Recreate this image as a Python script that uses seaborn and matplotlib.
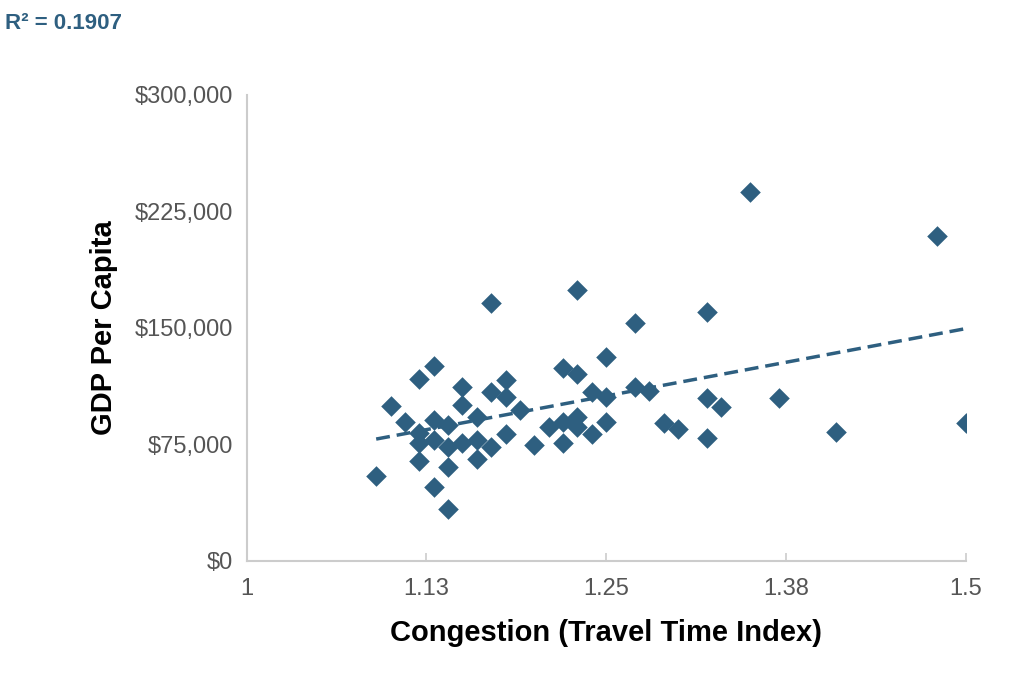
import matplotlib
matplotlib.use("Agg")
import matplotlib.pyplot as plt
import seaborn as sns
import pandas as pd
from matplotlib.ticker import FuncFormatter

plt.rcParams["font.family"] = "Liberation Sans"

congestion = [1.09, 1.10, 1.11, 1.12, 1.12, 1.12, 1.12, 1.13, 1.13, 1.13, 1.13,
              1.14, 1.14, 1.14, 1.14, 1.15, 1.15, 1.15, 1.16, 1.16, 1.16,
              1.17, 1.17, 1.17, 1.18, 1.18, 1.18, 1.19, 1.20, 1.21,
              1.22, 1.22, 1.22, 1.23, 1.23, 1.23, 1.23, 1.24, 1.24,
              1.25, 1.25, 1.25, 1.27, 1.27, 1.28, 1.29, 1.30,
              1.32, 1.32, 1.32, 1.33, 1.35, 1.37, 1.41, 1.48, 1.50]
gdp = [54700, 99800, 89500, 117200, 82400, 76000, 64400, 125500, 90800, 77900, 47600,
       87600, 73400, 60500, 33500, 112000, 100400, 76000, 92700, 77900, 65700,
       166000, 108800, 73400, 116500, 105600, 81800, 97200, 74700, 86300,
       124300, 89500, 76000, 174500, 120400, 92700, 86300, 108800, 81800,
       131300, 105600, 89500, 153200, 112000, 109400, 88800, 85000,
       160300, 104900, 79200, 99100, 237600, 104900, 83000, 209200, 88800]
x_ticks = [1, 1.125, 1.25, 1.375, 1.5]
x_labels = ["1", "1.13", "1.25", "1.38", "1.5"]
y_ticks = [0, 75000, 150000, 225000, 300000]

df = pd.DataFrame({"Congestion": congestion, "GDP": gdp})
color = "#2e5f80"

fig = plt.figure(figsize=(10.24, 6.78), dpi=100)
ax = fig.add_axes([0.241, 0.1726, 0.702, 0.6874])
sns.regplot(data=df, x="Congestion", y="GDP", ax=ax, ci=None, truncate=True, marker="D",
            scatter_kws=dict(s=110, color=color, linewidths=0, alpha=1),
            line_kws=dict(color=color, linestyle=(0, (4, 2)), linewidth=2.5))
ax.set_xlim(1, 1.5)
ax.set_ylim(0, 300000)
ax.set_xticks(x_ticks)
ax.set_xticklabels(x_labels)
ax.set_yticks(y_ticks)
ax.yaxis.set_major_formatter(FuncFormatter(lambda v, p: "${:,.0f}".format(v)))
ax.tick_params(labelsize=17, colors="#555555", length=6, width=1.2)
ax.tick_params(axis="x", pad=12, colors="#cccccc", labelcolor="#555555", direction="in")
ax.tick_params(axis="y", pad=10, length=0)
for s in ["top", "right"]:
    ax.spines[s].set_visible(False)
for s in ["left", "bottom"]:
    ax.spines[s].set_color("#cccccc")
    ax.spines[s].set_linewidth(1.5)
ax.set_xlabel("Congestion (Travel Time Index)", fontsize=21, fontweight="bold", labelpad=14)
ax.set_ylabel("GDP Per Capita", fontsize=21, fontweight="bold", labelpad=12)
fig.text(0.005, 0.965, "R² = 0.1907", fontsize=16, fontweight="bold", color=color, va="center")
fig.savefig("out.png", dpi=100)
